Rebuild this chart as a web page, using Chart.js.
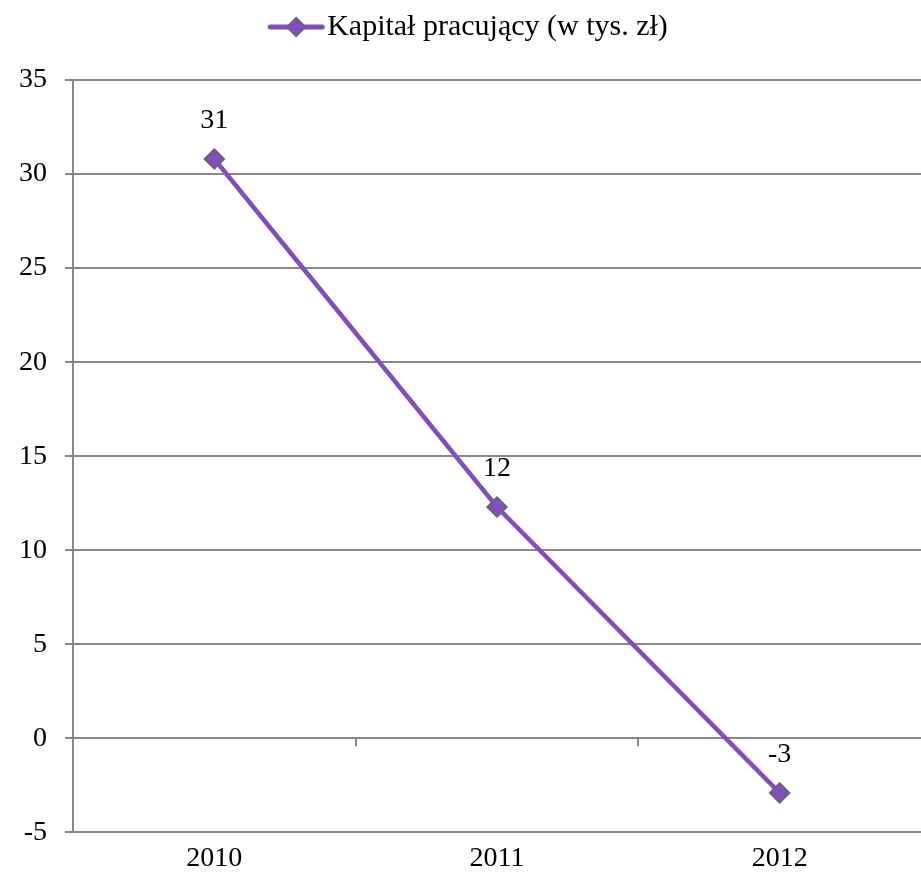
<!DOCTYPE html>
<html lang="pl">
<head>
  <meta charset="UTF-8">
  <title>Kapitał pracujący</title>
  <script src="https://cdn.jsdelivr.net/npm/chart.js"></script>
  <style>
    html, body { margin: 0; padding: 0; background: #fff; overflow: hidden; }
    #wrap { width: 921px; height: 885px; }
    canvas { display: block; }
  </style>
</head>
<body>
  <div id="wrap"><canvas id="chart"></canvas></div>
  <script>
    const years = ['2010', '2011', '2012'];
    const kapital = [30.8, 12.3, -2.9];
    const kapitalLabels = ['31', '12', '-3'];
    const seriesName = 'Kapitał pracujący (w tys. zł)';

    const purple = '#7f4fbd';
    const gridGray = '#888888';
    const font = "'Liberation Serif', 'DejaVu Serif', serif";

    // legend marker: line with diamond (drawn off-centre so it sits close to the text)
    const marker = document.createElement('canvas');
    marker.width = 90; marker.height = 22;
    (function () {
      const c = marker.getContext('2d');
      c.strokeStyle = purple; c.lineWidth = 5; c.lineCap = 'round';
      c.beginPath(); c.moveTo(32, 11); c.lineTo(84, 11); c.stroke();
      c.fillStyle = purple; c.strokeStyle = '#666'; c.lineWidth = 1.5;
      c.beginPath(); c.moveTo(58, 1.5); c.lineTo(67.5, 11); c.lineTo(58, 20.5); c.lineTo(48.5, 11); c.closePath();
      c.fill(); c.stroke();
    })();

    // extra room between legend and plot
    const legendGap = {
      id: 'legendGap',
      beforeInit(chart) {
        const fit = chart.legend.fit;
        chart.legend.fit = function () {
          fit.bind(chart.legend)();
          this.height += 28;
        };
      }
    };

    // value labels above points + tick marks on the zero line
    const extras = {
      id: 'extras',
      beforeDatasetsDraw(chart) {
        const ctx = chart.ctx;
        const x = chart.scales.x, y = chart.scales.y;
        const y0 = y.getPixelForValue(0);
        ctx.save();
        ctx.strokeStyle = gridGray;
        ctx.lineWidth = 2;
        for (let i = 1; i < years.length; i++) {
          const px = Math.round((x.getPixelForValue(i - 1) + x.getPixelForValue(i)) / 2);
          ctx.beginPath(); ctx.moveTo(px, y0); ctx.lineTo(px, y0 + 8); ctx.stroke();
        }
        ctx.restore();
      },
      afterDatasetsDraw(chart) {
        const ctx = chart.ctx;
        const meta = chart.getDatasetMeta(0);
        ctx.save();
        ctx.font = '28px ' + font;
        ctx.fillStyle = '#000';
        ctx.textAlign = 'center';
        ctx.textBaseline = 'middle';
        meta.data.forEach((pt, i) => {
          ctx.fillText(kapitalLabels[i], pt.x, pt.y - 38);
        });
        ctx.restore();
      }
    };

    new Chart(document.getElementById('chart'), {
      type: 'line',
      data: {
        labels: years,
        datasets: [{
          label: seriesName,
          data: kapital,
          borderColor: purple,
          borderWidth: 4.5,
          backgroundColor: purple,
          pointStyle: 'rectRot',
          pointRadius: 10,
          pointHoverRadius: 10,
          pointBackgroundColor: purple,
          pointBorderColor: '#666',
          pointBorderWidth: 1.5,
          tension: 0
        }]
      },
      options: {
        responsive: true,
        maintainAspectRatio: false,
        animation: false,
        layout: { autoPadding: false, padding: { top: 0, right: 0, left: 1, bottom: 1 } },
        plugins: {
          legend: {
            position: 'top',
            labels: {
              usePointStyle: true,
              pointStyle: marker,
              pointStyleWidth: 58,
              boxHeight: 22,
              color: '#000',
              font: { family: font, size: 30 },
              padding: 12
            }
          },
          tooltip: { enabled: false }
        },
        scales: {
          x: {
            offset: true,
            grid: { display: false, drawTicks: false },
            border: { display: false },
            ticks: { color: '#000', font: { family: font, size: 28 }, padding: 9 }
          },
          y: {
            min: -5,
            max: 35,
            ticks: { stepSize: 5, color: '#000', font: { family: font, size: 28 }, padding: 18 },
            grid: { color: gridGray, lineWidth: 2, tickLength: 8 },
            border: { color: gridGray, width: 2 }
          }
        }
      },
      plugins: [legendGap, extras]
    });
  </script>
</body>
</html>
